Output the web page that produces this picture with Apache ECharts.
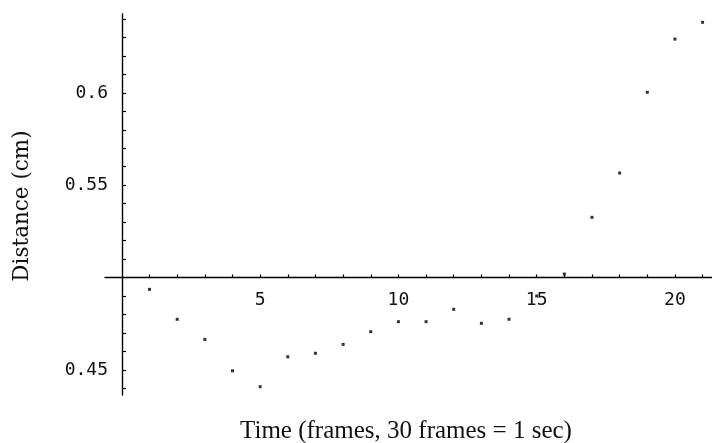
<!DOCTYPE html>
<html>
<head>
<meta charset="utf-8">
<script src="https://cdn.jsdelivr.net/npm/echarts@6/dist/echarts.min.js"></script>
<style>html,body{margin:0;padding:0;background:#fff;}#c{width:712px;height:443px;}</style>
</head>
<body>
<div id="c"></div>
<script>
// Data
const frames = [1,2,3,4,5,6,7,8,9,10,11,12,13,14,15,16,17,18,19,20,21];
const distances = [0.4936,0.4774,0.4665,0.4495,0.4409,0.4571,0.4590,0.4638,0.4707,0.4761,0.4761,0.4828,0.4752,0.4774,0.4900,0.5019,0.5326,0.5566,0.6003,0.6291,0.6382];
const xTickValues = [1,2,3,4,5,6,7,8,9,10,11,12,13,14,15,16,17,18,19,20,21];
const xTickLabels = [5,10,15,20];
const yTickValues = [0.44,0.45,0.46,0.47,0.48,0.49,0.51,0.52,0.53,0.54,0.55,0.56,0.57,0.58,0.59,0.60,0.61,0.62,0.63,0.64];
const yTickLabels = [0.45,0.55,0.6];
const xTitle = 'Time (frames, 30 frames = 1 sec)';
const yTitle = 'Distance (cm)';

const chart = echarts.init(document.getElementById('c'), null, {renderer: 'canvas'});
const labelFont = {fontFamily: '"DejaVu Sans Mono"', fontSize: 18, color: '#111'};
chart.setOption({
  animation: false,
  backgroundColor: '#fff',
  grid: {left: 105, right: 0, top: 14, bottom: 48, containLabel: false},
  xAxis: {
    type: 'value', min: -0.61, max: 21.34, position: 'bottom', offset: -117.5,
    axisLine: {show: true, onZero: false, lineStyle: {color: '#000', width: 1.4}},
    axisTick: {show: true, inside: true, length: 3, customValues: xTickValues, lineStyle: {color: '#000', width: 1.2}},
    axisLabel: Object.assign({show: true, margin: 14, customValues: xTickLabels, formatter: v => String(v)}, labelFont),
    splitLine: {show: false}
  },
  yAxis: {
    type: 'value', min: 0.4364, max: 0.6427, position: 'left', offset: -17,
    axisLine: {show: true, onZero: false, lineStyle: {color: '#000', width: 1.4}},
    axisTick: {show: true, inside: true, length: 4, customValues: yTickValues, lineStyle: {color: '#000', width: 1.2}},
    axisLabel: Object.assign({show: true, margin: 14, customValues: yTickLabels, formatter: v => String(v)}, labelFont),
    splitLine: {show: false}
  },
  graphic: [
    {type: 'text', x: 406, y: 431, style: {text: xTitle, align: 'center', verticalAlign: 'middle', font: '25px "Liberation Serif"', fill: '#111'}},
    {type: 'text', x: 22, y: 206, rotation: Math.PI / 2, style: {text: yTitle, align: 'center', verticalAlign: 'middle', font: '21.5px "DejaVu Serif"', fill: '#111'}}
  ],
  series: [{
    type: 'scatter',
    data: frames.map((f, i) => [f, distances[i]]),
    symbol: 'rect',
    symbolSize: 3,
    itemStyle: {color: '#000'}
  }]
});
</script>
</body>
</html>
